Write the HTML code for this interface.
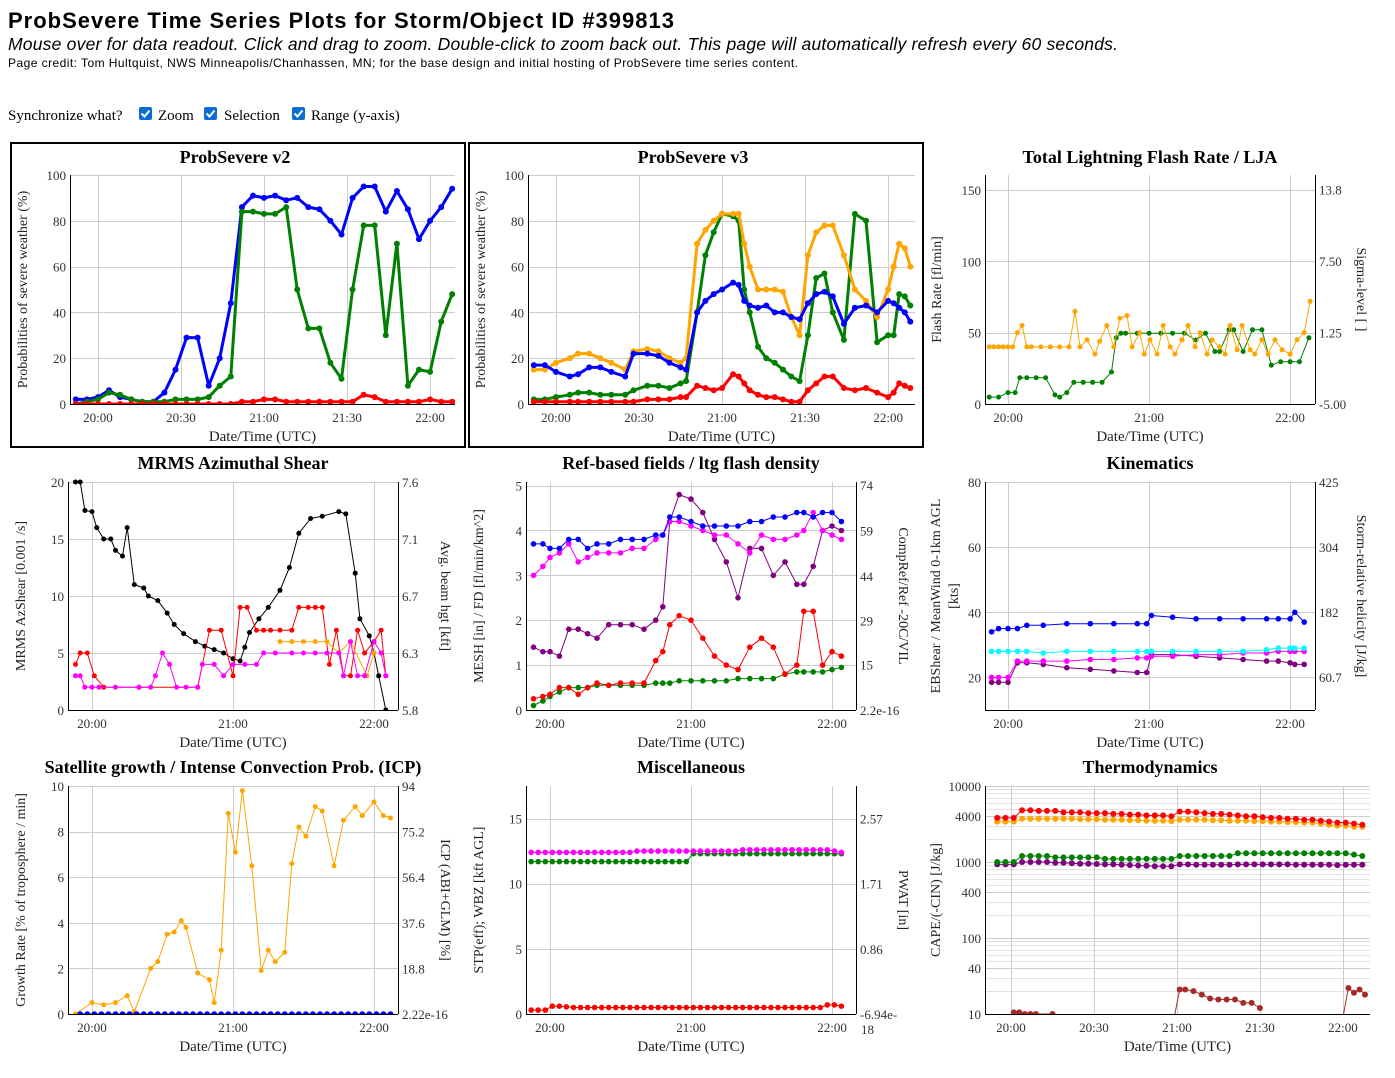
<!DOCTYPE html>
<html><head><meta charset="utf-8">
<style>
html,body{margin:0;padding:0;background:#fff;}
svg{display:block;}
text{font-family:"Liberation Serif",serif;}
text.sans{font-family:"Liberation Sans",sans-serif;}
</style></head>
<body>
<svg id="root" width="1395" height="1078" viewBox="0 0 1395 1078" xmlns="http://www.w3.org/2000/svg">
<g>
<text class="sans" x="8" y="28" font-weight="bold" font-size="22" textLength="666">ProbSevere Time Series Plots for Storm/Object ID #399813</text>
<text class="sans" x="8" y="50" font-style="italic" font-size="17.5" textLength="1110">Mouse over for data readout. Click and drag to zoom. Double-click to zoom back out. This page will automatically refresh every 60 seconds.</text>
<text class="sans" x="8" y="67" font-size="12" textLength="790">Page credit: Tom Hultquist, NWS Minneapolis/Chanhassen, MN; for the base design and initial hosting of ProbSevere time series content.</text>
<text x="8" y="120" font-size="15">Synchronize what?</text>
<g><rect x="139" y="107" width="13" height="13" rx="2" fill="#0b6cd6"/><path d="M141.5 113.5 l3 3 l5 -6" stroke="#fff" stroke-width="2" fill="none"/></g>
<text x="158" y="120" font-size="15">Zoom</text>
<g><rect x="204" y="107" width="13" height="13" rx="2" fill="#0b6cd6"/><path d="M206.5 113.5 l3 3 l5 -6" stroke="#fff" stroke-width="2" fill="none"/></g>
<text x="224" y="120" font-size="15">Selection</text>
<g><rect x="292" y="107" width="13" height="13" rx="2" fill="#0b6cd6"/><path d="M294.5 113.5 l3 3 l5 -6" stroke="#fff" stroke-width="2" fill="none"/></g>
<text x="311" y="120" font-size="15">Range (y-axis)</text>
</g>
<rect x="11" y="143" width="454" height="304" fill="none" stroke="#000" stroke-width="2"/>
<rect x="469" y="143" width="454" height="304" fill="none" stroke="#000" stroke-width="2"/>
</svg>
<script>
// ---------- DATA (minutes after 20:00 UTC) ----------
const T1 = [-8,-4,0,4,8,12,16,20,24,28,32,36,40,44,48,52,56,60,64,68,72,76,80,84,88,92,96,100,104,108,112,116,120,124,128];
const v2Blue  = [2,2,3,6,3,2,1,1,5,15,29,29,8,20,44,86,91,90,91,89,90,86,85,80,74,90,95,95,84,93,85,72,80,86,94];
const v2Green = [0,1,2,5,4,2,1,1,1,2,2,2,3,8,12,84,84,83,83,86,50,33,33,18,11,50,78,78,30,70,8,15,14,36,48];
const v2Red   = [0,0,0,0,0,0,0,0,0,0,0,0,0,0,0,1,1,2,2,1,1,1,1,1,1,1,4,3,1,1,1,1,2,1,1];

const T2 = [-8,-4,0,5,8,12,16,20,25,28,33,37,41,45,47,51,54,57,60,64,66,68,70,73,76,79,82,85,88,91,94,97,100,104,108,112,116,120,122,124,126,128];
const v3Blue   = [17,17,14,12,13,16,16,14,12,22,22,21,18,16,15,40,45,48,50,53,52,45,43,42,43,40,40,38,37,44,48,49,47,35,42,43,40,45,44,42,40,36];
const v3Orange = [15,15,18,20,22,22,20,18,15,23,24,23,20,18,20,70,76,80,83,83,83,70,60,50,50,50,49,38,30,65,75,78,78,65,50,45,38,50,60,70,68,60];
const v3Green  = [2,2,3,4,5,5,4,4,4,6,8,8,7,9,10,40,65,75,83,82,80,50,40,25,20,18,15,12,10,30,55,57,40,28,83,80,27,30,30,48,47,43];
const v3Red    = [1,1,1,1,1,1,1,1,1,1,2,2,2,3,3,8,7,6,7,13,12,9,6,4,3,3,2,1,1,6,9,12,12,7,6,7,5,3,5,9,8,7];

const T3o = [-8,-6,-4,-2,0,2,4,6,8,10,14,18,22,26,28.5,30.6,33.6,37,39,42,45,47.6,50.6,52.8,56,58,60.4,63.4,66,69,71,74,76.6,79.6,81.7,84.7,86.8,90,92.3,94.5,97.5,99.6,103,105,108,110.6,113.6,116.6,120,123,126,128.5];
const flashRate = [40,40,40,40,40,40,50,55,40,40,40,40,40,40,65,40,45,35,44,55,40,60,62,40,50,35,45,35,55,40,35,45,55,40,50,35,45,40,35,55,38,55,38,35,45,35,45,38,35,45,50,72];
const T3g = [-8,-4,0,3,5,8,12,16,20,22,25,28,32,36,40,44,46,48,50,55,60,65,70,75,80,84,88,90,94,96,100,104,108,112,116,120,124,128];
const sigmaLevel = [-4.4,-4.4,-4.0,-4.0,-2.7,-2.7,-2.7,-2.7,-4.2,-4.4,-4.0,-3.1,-3.1,-3.1,-3.1,-2.2,0.8,1.2,1.2,1.2,1.2,1.2,1.2,1.2,0.6,1.2,-0.4,-0.4,1.5,1.5,-0.4,1.5,1.5,-1.6,-1.3,-1.3,-1.3,0.8];

const T4k = [-7,-5,-3,0,2,5,8,10,13,15,18,22,24,28,32,35,39,44,48,52,56,60,63,65,67,71,75,80,84,88,93,98,105,108,112,114,118,120,122,125];
const azShear = [20,20,17.5,17.4,16,15,15,14,13.5,16,11,10.7,10,9.6,8.5,7.5,6.7,6,5.6,5.3,5,4.5,4.3,5.5,6.8,8,9,10.5,12.5,15.5,16.8,17,17.4,17.2,12,8,6.5,5,3,0];
const T4r = [-7,-5,-2,1,5,20,45,50,55,60,63,66,70,73,76,80,85,88,92,95,98,101,104,107,110,113,116,120,123,125];
const beamRed = [6.16,6.25,6.25,6.07,5.98,5.98,5.98,6.43,6.43,6.07,6.61,6.61,6.43,6.43,6.43,6.43,6.43,6.61,6.61,6.61,6.61,6.16,6.43,6.07,6.07,6.43,6.25,6.34,6.43,6.07];
const T4m = [-7,-5,-3,0,3,10,20,25,27,30,33,36,40,45,47,52,56,60,65,70,73,78,85,90,95,100,105,107,110,113,116,120,123,125];
const beamMagenta = [6.07,6.07,5.98,5.98,5.98,5.98,5.98,5.98,6.07,6.25,6.16,5.98,5.98,5.98,6.16,6.16,6.07,6.16,6.16,6.16,6.25,6.25,6.25,6.25,6.25,6.25,6.25,6.07,6.34,6.07,6.07,6.34,6.25,6.07];
const T4o = [80,85,90,95,100,105,110,117,120];
const beamOrange = [6.34,6.34,6.34,6.34,6.34,6.25,6.34,6.07,6.25];

const T5 = [-7,-3,0,4,8,12,16,20,25,30,35,40,45,48,51,55,60,65,70,75,80,85,90,95,100,105,108,112,116,120,124];
const meshBlue    = [3.7,3.7,3.6,3.6,3.8,3.8,3.6,3.7,3.7,3.8,3.8,3.8,3.9,3.9,4.3,4.3,4.2,4.1,4.1,4.1,4.1,4.2,4.2,4.3,4.3,4.4,4.4,4.3,4.4,4.4,4.2];
const refMagenta  = [3.0,3.2,3.4,3.5,3.7,3.3,3.4,3.5,3.5,3.5,3.6,3.6,3.8,3.9,4.2,4.2,4.1,4.0,3.9,3.9,3.7,3.5,3.9,3.8,3.8,3.9,4.0,4.4,4.0,3.9,3.8];
const vilPurple   = [1.4,1.3,1.3,1.2,1.8,1.8,1.7,1.6,1.9,1.9,1.9,1.8,2.0,2.3,4.2,4.8,4.7,4.4,3.8,3.3,2.5,3.6,3.6,3.0,3.3,2.8,2.8,3.2,4.0,4.1,4.0];
const fdRed       = [0.25,0.3,0.35,0.5,0.5,0.35,0.5,0.6,0.55,0.6,0.6,0.6,1.1,1.3,1.9,2.1,2.0,1.6,1.2,1.0,0.9,1.4,1.6,1.4,0.8,1.0,2.2,2.2,1.0,1.3,1.2];
const meshGreen   = [0.1,0.2,0.3,0.4,0.5,0.5,0.5,0.55,0.55,0.55,0.55,0.55,0.6,0.6,0.6,0.65,0.65,0.65,0.65,0.65,0.7,0.7,0.7,0.7,0.8,0.85,0.85,0.85,0.85,0.9,0.95];

const T6 = [-7,-4,0,4,8,15,25,35,45,55,59,61,70,80,90,100,110,115,120,122,126];
const ebShearBlue   = [34,35,35,35,36,36,36.5,36.5,36.5,36.5,36.5,39,38.5,38,38,38,38,38,38,40,37];
const meanWindCyan  = [28,28,28,28,28,27.5,28,28,28,28,28,28,28,28,28,28,28.5,29,29,29,29];
const kinPurple     = [18.5,18.5,18.5,24.5,24.5,24,23,22.5,22,21.5,21.5,27,27,26.5,26,25.5,25,25,24.5,24,24];
const kinMagenta    = [20,20,20,25,25,25,25,25.5,25.5,26,26,26.5,26.5,27,27,27.5,27.5,28,28,28,28];

const T7o = [-7,0,5,10,15,18,25,28,32,35,38,40,45,50,52,55,58,61,64,68,72,75,78,82,85,88,91,95,98,103,107,112,115,120,124,127];
const icpOrange = [0,4.7,3.8,4.7,7.5,0.9,18.8,21.6,32.9,33.8,38.5,35.7,16.9,14.1,4.7,26.3,82.7,66.7,92.1,61.1,17.9,26.3,21.6,25.4,62,77.1,73.3,85.5,83.7,61.1,79.9,85.5,81.8,87.4,81.8,80.8];
const T45 = [-5,-2,1,4,7,10,13,16,19,22,25,28,31,34,37,40,43,46,49,52,55,58,61,64,67,70,73,76,79,82,85,88,91,94,97,100,103,106,109,112,115,118,121,124,127];
const growthBlue = [0,0,0,0,0,0,0,0,0,0,0,0,0,0,0,0,0,0,0,0,0,0,0,0,0,0,0,0,0,0,0,0,0,0,0,0,0,0,0,0,0,0,0,0,0];

const T8 = [-8,-5,-2,1,4,7,10,13,16,19,22,25,28,31,34,37,40,43,46,49,52,55,58,61,64,67,70,73,76,79,82,85,88,91,94,97,100,103,106,109,112,115,118,121,124];
const stpMagenta = [12.4,12.4,12.4,12.4,12.4,12.4,12.4,12.4,12.4,12.4,12.4,12.4,12.4,12.4,12.4,12.5,12.5,12.5,12.5,12.5,12.5,12.5,12.5,12.5,12.5,12.5,12.5,12.5,12.5,12.5,12.6,12.6,12.6,12.6,12.6,12.6,12.6,12.6,12.6,12.6,12.6,12.6,12.6,12.5,12.4];
const wbzGreen = [11.7,11.7,11.7,11.7,11.7,11.7,11.7,11.7,11.7,11.7,11.7,11.7,11.7,11.7,11.7,11.7,11.7,11.7,11.7,11.7,11.7,11.7,11.7,12.3,12.3,12.3,12.3,12.3,12.3,12.3,12.3,12.3,12.3,12.3,12.3,12.3,12.3,12.3,12.3,12.3,12.3,12.3,12.3,12.3,12.3];
const pwatRed = [0.3,0.3,0.3,0.6,0.6,0.55,0.5,0.5,0.5,0.5,0.5,0.5,0.5,0.5,0.5,0.5,0.5,0.5,0.5,0.5,0.5,0.5,0.5,0.5,0.5,0.5,0.5,0.5,0.5,0.5,0.5,0.5,0.5,0.5,0.5,0.5,0.5,0.5,0.5,0.5,0.5,0.5,0.7,0.7,0.6];

const capeRed = [3800,3800,3800,4800,4800,4700,4700,4700,4500,4500,4500,4400,4400,4400,4300,4300,4200,4200,4100,4100,4100,4000,4600,4600,4500,4400,4300,4300,4200,4100,4000,4000,3900,3800,3800,3700,3700,3600,3600,3500,3400,3300,3300,3200,3100];
const capeOrange = [3400,3400,3400,3700,3700,3700,3700,3700,3700,3700,3650,3650,3650,3600,3600,3600,3550,3550,3500,3500,3500,3450,3600,3600,3600,3600,3550,3550,3500,3500,3500,3450,3450,3400,3400,3350,3350,3300,3300,3200,3100,3000,3000,2900,2900];
const capeGreen = [1000,1000,1000,1200,1200,1200,1200,1150,1150,1150,1150,1150,1150,1100,1100,1100,1100,1100,1100,1100,1100,1100,1200,1200,1200,1200,1200,1200,1200,1300,1300,1300,1300,1300,1300,1300,1300,1300,1300,1300,1300,1300,1300,1250,1200];
const capePurple = [930,930,930,1000,1000,1000,1000,980,980,960,950,950,940,930,930,920,910,900,890,880,880,880,930,930,920,920,920,920,920,930,930,930,930,930,930,930,920,920,920,920,920,910,920,920,920];
const T9b = [1,3,5,7,9,15,null,59,61,63,66,69,72,75,78,81,84,87,90,null,120,122,124,126,128];
const cinBrown = [10.5,10.5,10,10,10,10,null,9,21,21,20,18,16,15.5,15.5,15.5,14,14,12,null,9,22,19,21,18];

const xTicks5 = [0,30,60,90,120];
const xLabels5 = ["20:00","20:30","21:00","21:30","22:00"];
const xTicks3 = [0,60,120];
const xLabels3 = ["20:00","21:00","22:00"];

// ---------- DRAWING ----------
const NS = "http://www.w3.org/2000/svg";
const root = document.getElementById('root');
function mk(tag, attrs, parent){ const e=document.createElementNS(NS,tag); for(const k in attrs) e.setAttribute(k,attrs[k]); (parent||root).appendChild(e); return e; }
let clipId=0;

function chart(c){
  const g = mk('g',{});
  
  
  const X = t => c.x0 + (t-c.tmin)/(c.tmax-c.tmin)*(c.x1-c.x0);
  const Y = (v,ax) => {
    const a = ax || c.L;
    if (a.log) return c.y1 - (Math.log10(v)-Math.log10(a.min))/(Math.log10(a.max)-Math.log10(a.min))*(c.y1-c.y0);
    return c.y1 - (v-a.min)/(a.max-a.min)*(c.y1-c.y0);
  };
  const grid = mk('g',{stroke:'#ccc','stroke-width':1},g);
  
  
  if (c.L.minor) c.L.minor.forEach(v=>{ const y=Math.round(Y(v))+0.5; mk('line',{x1:c.x0,x2:c.x1,y1:y,y2:y,stroke:'#e2e2e2'},grid); });
  c.L.ticks.forEach(v=>{ const y=Math.round(Y(v))+0.5; mk('line',{x1:c.x0,x2:c.x1,y1:y,y2:y},grid); });
  c.xt.forEach(t=>{ const x=Math.round(X(t))+0.5; mk('line',{x1:x,x2:x,y1:c.y0,y2:c.y1},grid); });
  const cid='clip'+(clipId++);
  const cp = mk('clipPath',{id:cid},g); mk('rect',{x:c.x0,y:c.y0-4,width:c.x1-c.x0,height:c.y1-c.y0+4},cp);
  const sg = mk('g',{'clip-path':'url(#'+cid+')'},g);
  c.series.forEach(s=>{
    const ax = s.right ? c.R : c.L;
    let d='', pen=false;
    const pts=[];
    for(let i=0;i<Math.min(s.t.length,s.v.length);i++){
      if(s.t[i]===null||s.v[i]===null){pen=false;continue;}
      const x=X(s.t[i]), y=Y(s.v[i],ax);
      d += (pen?'L':'M')+x.toFixed(1)+' '+y.toFixed(1)+' ';
      pen=true; pts.push([x,y]);
    }
    const p = mk('path',{d:d,fill:'none',stroke:s.color,'stroke-width':s.lw||1,'stroke-linejoin':'round'},sg);
    
    
    pts.forEach(q=>{
      const ci = mk('circle',{cx:q[0].toFixed(1),cy:q[1].toFixed(1),r:s.r||2.8,fill:s.color},sg);
      
      
    });
  });
  mk('line',{x1:c.x0+0.5,x2:c.x0+0.5,y1:c.y0,y2:c.y1,stroke:'#000'},g);
  mk('line',{x1:c.x0,x2:c.x1,y1:c.y1+0.5,y2:c.y1+0.5,stroke:'#000'},g);
  if (c.R) mk('line',{x1:c.x1+0.5,x2:c.x1+0.5,y1:c.y0,y2:c.y1,stroke:'#000'},g);
  c.L.ticks.forEach((v,i)=>{ const y=Y(v);
    const tx=mk('text',{x:c.x0-4,y:y+5,'text-anchor':'end','font-size':13,fill:'#333'},g); tx.textContent=c.L.labels[i];
      });
  if (c.R) c.R.ticks.forEach((v,i)=>{ const y=Y(v,c.R);
    const tx=mk('text',{x:c.x1+4,y:y+5,'font-size':13,fill:'#333'},g); tx.textContent=c.R.labels[i];
      });
  c.xt.forEach((t,i)=>{ const tx=mk('text',{x:X(t),y:c.y1+18,'text-anchor':'middle','font-size':13,fill:'#333'},g); tx.textContent=c.xl[i];
      });
  const ti=mk('text',{x:c.tx,y:c.ty,'text-anchor':'middle','font-size':18,'font-weight':'bold'},g); ti.textContent=c.title;
   
  const xl=mk('text',{x:(c.x0+c.x1)/2,y:c.y1+37,'text-anchor':'middle','font-size':15,fill:'#222'},g); xl.textContent='Date/Time (UTC)';
   
  const cy=(c.y0+c.y1)/2;
  c.ylab.forEach((s,i)=>{ const lx=c.ylx+i*18; const t=mk('text',{x:lx,y:cy,'text-anchor':'middle','font-size':14,fill:'#222',transform:'rotate(-90 '+lx+' '+cy+')'},g); t.textContent=s;
      });
  if (c.y2lab){ const lx=c.y2x; const t=mk('text',{x:lx,y:cy,'text-anchor':'middle','font-size':14,fill:'#222',transform:'rotate(90 '+lx+' '+cy+')'},g); t.textContent=c.y2lab;
      }
}

const lin = (min,max,ticks,labels)=>({min,max,ticks,labels});

chart({name:'probsevere-v2-chart',title:'ProbSevere v2',tx:235,ty:163,x0:70,x1:455,y0:175,y1:404,tmin:-10.1,tmax:129,
  xt:xTicks5,xl:xLabels5,L:lin(0,100,[0,20,40,60,80,100],["0","20","40","60","80","100"]),
  ylab:['Probabilities of severe weather (%)'],ylx:27,
  series:[{name:'v2-blue',t:T1,v:v2Blue,color:'#0000ff',lw:3,r:3},{name:'v2-green',t:T1,v:v2Green,color:'#008000',lw:3,r:3},{name:'v2-red',t:T1,v:v2Red,color:'#ff0000',lw:3,r:3}]});

chart({name:'probsevere-v3-chart',title:'ProbSevere v3',tx:693,ty:163,x0:528,x1:915,y0:175,y1:404,tmin:-10.1,tmax:129.7,
  xt:xTicks5,xl:xLabels5,L:lin(0,100,[0,20,40,60,80,100],["0","20","40","60","80","100"]),
  ylab:['Probabilities of severe weather (%)'],ylx:485,
  series:[{name:'v3-green',t:T2,v:v3Green,color:'#008000',lw:3,r:3},{name:'v3-orange',t:T2,v:v3Orange,color:'#ffa500',lw:3,r:3},{name:'v3-blue',t:T2,v:v3Blue,color:'#0000ff',lw:3,r:3},{name:'v3-red',t:T2,v:v3Red,color:'#ff0000',lw:3,r:3}]});

chart({name:'lightning-chart',title:'Total Lightning Flash Rate / LJA',tx:1150,ty:163,x0:985,x1:1315,y0:175,y1:404,tmin:-9.8,tmax:130.6,
  xt:xTicks3,xl:xLabels3,L:lin(0,160.5,[0,50,100,150],["0","50","100","150"]),
  R:lin(-5,15.05,[-5,1.25,7.5,13.8],["-5.00","1.25","7.50","13.8"]),
  ylab:['Flash Rate [fl/min]'],ylx:941,y2lab:'Sigma-level [ ]',y2x:1357,
  series:[{name:'sigma-green',t:T3g,v:sigmaLevel,color:'#008000',right:true,r:2.5},{name:'flash-orange',t:T3o,v:flashRate,color:'#ffa500',r:2.5}]});

chart({name:'azshear-chart',title:'MRMS Azimuthal Shear',tx:233,ty:469,x0:68,x1:398,y0:482,y1:710,tmin:-10.2,tmax:130.2,
  xt:xTicks3,xl:xLabels3,L:lin(0,20,[0,5,10,15,20],["0","5","10","15","20"]),
  R:lin(5.8,7.6,[5.8,6.25,6.7,7.15,7.6],["5.8","6.3","6.7","7.1","7.6"]),
  ylab:['MRMS AzShear [0.001 /s]'],ylx:25,y2lab:'Avg. beam hgt [kft]',y2x:441,
  series:[{name:'azshear-black',t:T4k,v:azShear,color:'#000',r:2.5},{name:'beam-red',t:T4r,v:beamRed,color:'#ff0000',right:true,r:2.5},{name:'beam-orange',t:T4o,v:beamOrange,color:'#ffa500',right:true,r:2.5},{name:'beam-magenta',t:T4m,v:beamMagenta,color:'#ff00ff',right:true,r:2.5}]});

chart({name:'ref-fields-chart',title:'Ref-based fields / ltg flash density',tx:691,ty:469,x0:526,x1:856,y0:482,y1:710,tmin:-10.2,tmax:130.2,
  xt:xTicks3,xl:xLabels3,L:lin(0,5.08,[0,1,2,3,4,5],["0","1","2","3","4","5"]),
  R:lin(0,75,[0,15,29.5,44,59,74],["2.2e-16","15","29","44","59","74"]),
  ylab:['MESH [in] / FD [fl/min/km^2]'],ylx:483,y2lab:'CompRef/Ref -20C/VIL',y2x:899,
  series:[{name:'ref-green',t:T5,v:meshGreen,color:'#008000',r:2.8},{name:'ref-red',t:T5,v:fdRed,color:'#ff0000',r:2.8},{name:'ref-purple',t:T5,v:vilPurple,color:'#800080',r:2.8},{name:'ref-magenta',t:T5,v:refMagenta,color:'#ff00ff',r:2.8},{name:'ref-blue',t:T5,v:meshBlue,color:'#0000ff',r:2.8}]});

chart({name:'kinematics-chart',title:'Kinematics',tx:1150,ty:469,x0:985,x1:1315,y0:482,y1:710,tmin:-9.8,tmax:130.6,
  xt:xTicks3,xl:xLabels3,L:lin(10,80,[20,40,60,80],["20","40","60","80"]),
  R:lin(-1,425,[60.7,182,304,425],["60.7","182","304","425"]),
  ylab:['EBShear / MeanWind 0-1km AGL','[kts]'],ylx:940,y2lab:'Storm-relative helicity [J/kg]',y2x:1357,
  series:[{name:'kin-purple',t:T6,v:kinPurple,color:'#800080',r:2.8},{name:'kin-magenta',t:T6,v:kinMagenta,color:'#ff00ff',r:2.8},{name:'kin-cyan',t:T6,v:meanWindCyan,color:'#00ffff',r:2.8},{name:'kin-blue',t:T6,v:ebShearBlue,color:'#0000ff',r:2.8}]});

chart({name:'satellite-chart',title:'Satellite growth / Intense Convection Prob. (ICP)',tx:233,ty:773,x0:68,x1:398,y0:786,y1:1014,tmin:-10.2,tmax:130.2,
  xt:xTicks3,xl:xLabels3,L:lin(0,10,[0,2,4,6,8,10],["0","2","4","6","8","10"]),
  R:lin(0,94,[0,18.8,37.6,56.4,75.2,94],["2.22e-16","18.8","37.6","56.4","75.2","94"]),
  ylab:['Growth Rate [% of troposphere / min]'],ylx:25,y2lab:'ICP (ABI+GLM) [%]',y2x:441,
  series:[{name:'icp-orange',t:T7o,v:icpOrange,color:'#ffa500',right:true,r:2.5},{name:'growth-blue',t:T45,v:growthBlue,color:'#0000ff',r:2.8}]});

chart({name:'misc-chart',title:'Miscellaneous',tx:691,ty:773,x0:526,x1:856,y0:786,y1:1014,tmin:-10.2,tmax:130.2,
  xt:xTicks3,xl:xLabels3,L:lin(0,17.5,[0,5,10,15],["0","5","10","15"]),
  R:lin(0,3.0,[0,0.857,1.714,2.571],["-6.94e-","0.86","1.71","2.57"]),
  ylab:['STP(eff); WBZ [kft AGL]'],ylx:483,y2lab:'PWAT [in]',y2x:899,
  series:[{name:'misc-green',t:T8,v:wbzGreen,color:'#008000',r:2.8},{name:'misc-magenta',t:T8,v:stpMagenta,color:'#ff00ff',r:2.8},{name:'misc-red',t:T8,v:pwatRed,color:'#ff0000',r:2.8}]});
(function(){ const t=mk('text',{x:861,y:1034,'font-size':13,fill:'#333'}); t.textContent='18';
    })();

const logMinor=[];
[10,100,1000].forEach(b=>{for(let k=2;k<=9;k++) logMinor.push(b*k);});
chart({name:'thermodynamics-chart',title:'Thermodynamics',tx:1150,ty:773,x0:985,x1:1370,y0:786,y1:1014,tmin:-9.4,tmax:129.8,
  xt:xTicks5,xl:xLabels5,L:{min:10,max:10000,log:true,minor:logMinor,ticks:[10,40,100,400,1000,4000,10000],labels:["10","40","100","400","1000","4000","10000"]},
  ylab:['CAPE/(-CIN) [J/kg]'],ylx:940,
  series:[{name:'thermo-purple',t:T45,v:capePurple,color:'#800080',r:3},{name:'thermo-green',t:T45,v:capeGreen,color:'#008000',r:3},{name:'thermo-orange',t:T45,v:capeOrange,color:'#ffa500',r:3},{name:'thermo-red',t:T45,v:capeRed,color:'#ff0000',r:3},{name:'thermo-brown',t:T9b,v:cinBrown,color:'#a52a2a',r:3}]});
</script>
</body></html>
